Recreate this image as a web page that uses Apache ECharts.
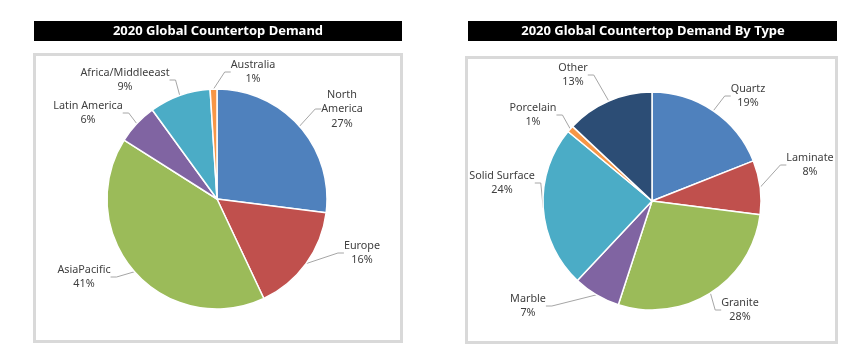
<!DOCTYPE html>
<html>
<head>
<meta charset="utf-8">
<script src="https://cdn.jsdelivr.net/npm/echarts@6/dist/echarts.min.js"></script>
<style>html,body{margin:0;padding:0;background:#fff}#c{width:863px;height:356px}</style>
</head>
<body>
<div id="c"></div>
<script>
// ---- data ----
const regionNames = ['North America', 'Europe', 'AsiaPacific', 'Latin America', 'Africa/Middleeast', 'Australia'];
const regionValues = [27, 16, 41, 6, 9, 1];
const typeNames = ['Quartz', 'Laminate', 'Granite', 'Marble', 'Solid Surface', 'Porcelain', 'Other'];
const typeValues = [19, 8, 28, 7, 24, 1, 13];
const titles = ['2020 Global Countertop Demand', '2020 Global Countertop Demand By Type'];

// ---- styles / layout ----
const regionColors = ['#4F81BD', '#C0504D', '#9BBB59', '#8064A2', '#4BACC6', '#F79646'];
const typeColors = ['#4F81BD', '#C0504D', '#9BBB59', '#8064A2', '#4BACC6', '#F79646', '#2C4D75'];
const labelText = { 'North America': 'North\nAmerica' };
// label block centres (px)
const regionLabelPos = [[342, 109], [362, 253], [84, 277], [88, 113], [125, 80], [253, 72]];
const typeLabelPos = [[748, 96], [810, 165], [740, 310], [528, 306], [502, 183], [533, 115], [573, 75]];

const FONT = 'Noto Sans';
function pieSeries(names, values, colors, center, radius, pos) {
  return {
    type: 'pie',
    center: center,
    radius: radius,
    startAngle: 90,
    clockwise: true,
    animation: false,
    silent: true,
    data: names.map((n, i) => ({ name: n, value: values[i], itemStyle: { color: colors[i] } })),
    itemStyle: { borderColor: '#fff', borderWidth: 1.5 },
    label: {
      show: true,
      position: 'outside',
      formatter: p => (labelText[p.name] || p.name) + '\n' + p.value + '%',
      color: '#404040',
      fontFamily: FONT,
      fontSize: 10.8,
      lineHeight: 14.5,
      align: 'center'
    },
    labelLine: { show: true, length: 6, length2: 6, lineStyle: { color: '#A6A6A6', width: 1 } },
    labelLayout: p => ({ x: pos[p.dataIndex][0], y: pos[p.dataIndex][1], align: 'center', verticalAlign: 'middle' })
  };
}

const chart = echarts.init(document.getElementById('c'), null, { renderer: 'canvas' });
chart.setOption({
  animation: false,
  backgroundColor: '#fff',
  graphic: [
    { type: 'rect', shape: { x: 34.5, y: 54.5, width: 367, height: 287 }, style: { fill: '#fff', stroke: '#D9D9D9', lineWidth: 3 }, z: -10 },
    { type: 'rect', shape: { x: 466.5, y: 57.5, width: 370, height: 285 }, style: { fill: '#fff', stroke: '#D9D9D9', lineWidth: 3 }, z: -10 },
    { type: 'rect', shape: { x: 34, y: 21, width: 368, height: 20 }, style: { fill: '#000' } },
    { type: 'rect', shape: { x: 468, y: 21, width: 369, height: 20 }, style: { fill: '#000' } },
    { type: 'text', x: 218, y: 31.5, style: { text: titles[0], fill: '#fff', font: 'bold 13px "Noto Sans"', align: 'center', verticalAlign: 'middle' } },
    { type: 'text', x: 653, y: 31.5, style: { text: titles[1], fill: '#fff', font: 'bold 13px "Noto Sans"', align: 'center', verticalAlign: 'middle' } }
  ],
  series: [
    pieSeries(regionNames, regionValues, regionColors, [217, 199], 110, regionLabelPos),
    pieSeries(typeNames, typeValues, typeColors, [652, 201], 109, typeLabelPos)
  ]
});
</script>
</body>
</html>
